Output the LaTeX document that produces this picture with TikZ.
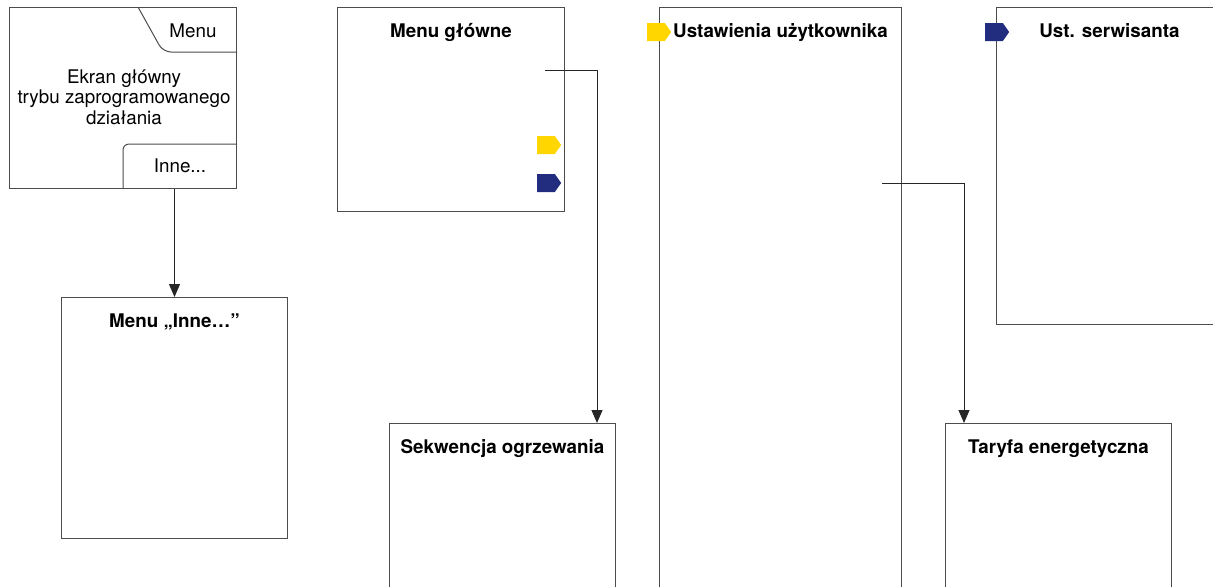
\documentclass[tikz,border=0pt]{standalone}
\usepackage{fontspec}
\setmainfont{TeX Gyre Heros}
\usetikzlibrary{arrows.meta,shapes.symbols}
\definecolor{zolty}{RGB}{255,214,0}
\definecolor{granat}{RGB}{35,45,128}

\begin{document}
\begin{tikzpicture}[x=0.5pt, y=-0.5pt,
  panel/.style={draw=black!70, line width=0.5pt, rectangle, inner sep=0pt, anchor=north west, minimum width=113pt},
  tytul/.style={font=\fontsize{9.4}{11}\selectfont\bfseries, anchor=base, inner sep=0pt},
  napis/.style={font=\fontsize{9.4}{10.2}\selectfont, inner sep=0pt},
  znacznik/.style={signal, signal to=east, signal pointer angle=110, fill=#1, minimum width=12pt, minimum height=9pt, inner sep=0pt},
  strzalka/.style={draw=black!85, line width=0.5pt, -{Triangle[length=6.5pt,width=5.5pt]}}
]
\useasboundingbox (0,0) rectangle (1213,586);
\clip (0,0) rectangle (1213,586);

% Ekran glowny
\node[panel, minimum width=113.5pt, minimum height=90.5pt] (ekran) at (9,7) {};
\draw[draw=black!70, line width=0.5pt, rounded corners=4pt] (138,7) -- (163,52) -- (ekran.east |- 0,52);
\draw[draw=black!70, line width=0.5pt, rounded corners=3pt] (123,188) -- (123,144) -- (ekran.east |- 0,144);
\node[napis] (menu) at (193,31) {Menu};
\node[napis] (inne) at (180,166) {Inne...};
\node[napis, align=center] (ekran-t) at (124,97) {Ekran główny\\trybu zaprogramowanego\\działania};

% Menu
\node[panel, minimum width=113.5pt, minimum height=102pt] (glowne) at (337,7) {};
\node[panel, minimum width=121pt, minimum height=330pt] (uzytk) at (659,7) {};
\node[panel, minimum height=158.5pt] (serwis) at (996,7) {};
\node[panel, minimum height=120.5pt] (minne) at (61,297) {};
\node[panel, minimum height=120pt] (sekw) at (389,423) {};
\node[panel, minimum height=120pt] (taryfa) at (945,423) {};

\foreach \n/\t in {glowne/Menu główne, uzytk/Ustawienia użytkownika, serwis/Ust. serwisanta,
                   minne/Menu „Inne…”, sekw/Sekwencja ogrzewania, taryfa/Taryfa energetyczna}
	\node[tytul] (\n-t) at ([yshift=-15pt]\n.north) {\t};

% Znaczniki
\node[znacznik=zolty] (z1) at (546,145) {};
\node[znacznik=granat] (z2) at (546,183) {};
\node[znacznik=zolty] (z3) at (656,32) {};
\node[znacznik=granat] (z4) at (994,32) {};

% Polaczenia
\coordinate (glowne-wyj) at (545,70);
\coordinate (uzytk-wyj) at (882,183);
\draw[strzalka] (ekran.south -| minne.north) -- (minne.north);
\draw[strzalka] (glowne-wyj) -| ([xshift=-9.5pt]sekw.north east);
\draw[strzalka] (uzytk-wyj) -| ([xshift=9.5pt]taryfa.north west);
\end{tikzpicture}
\end{document}
